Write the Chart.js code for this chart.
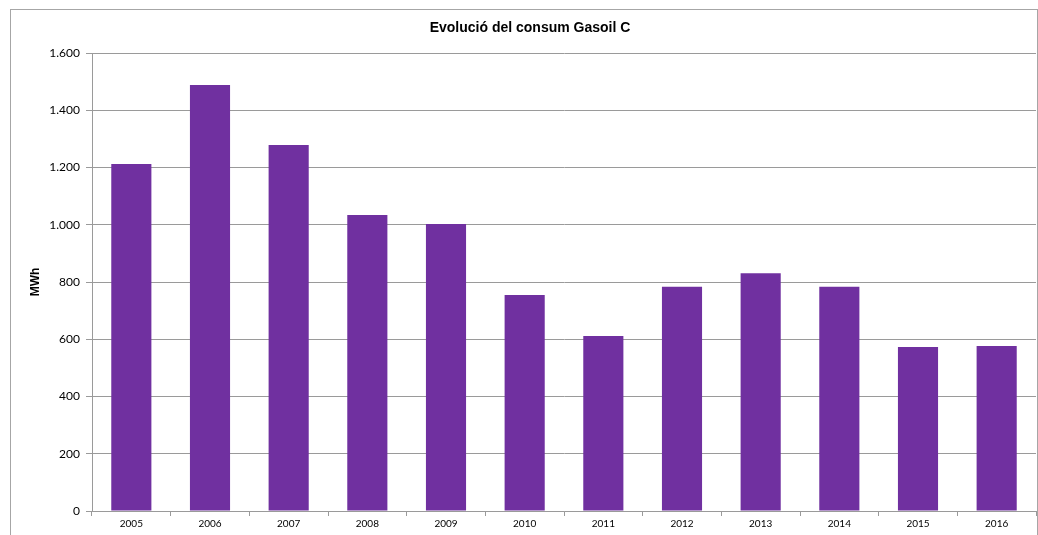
<!DOCTYPE html>
<html lang="ca">
<head>
  <meta charset="UTF-8">
  <title>Evolució del consum Gasoil C</title>
  <script src="https://cdn.jsdelivr.net/npm/chart.js"></script>
  <style>
    html, body {
      margin: 0;
      padding: 0;
      background: #fff;
      overflow: hidden;
    }
    #frame {
      position: absolute;
      left: 10px;
      top: 9px;
      width: 1026px;
      height: 600px;
      border: 1px solid #a6a6a6;
    }
    #chartContainer {
      position: absolute;
      left: 0;
      top: 0;
      width: 1038px;
      height: 535px;
    }
  </style>
</head>
<body>

  <div id="frame"></div>
  <div id="chartContainer">
    <canvas id="gasoilChart"></canvas>
  </div>

  <script>
    // Dades llegides del gràfic
    const anys = ["2005", "2006", "2007", "2008", "2009", "2010", "2011", "2012", "2013", "2014", "2015", "2016"];
    const consum = [1212, 1488, 1279, 1034, 1003, 755, 611, 783, 831, 783, 573, 576];
    const ticksY = [0, 200, 400, 600, 800, 1000, 1200, 1400, 1600];

    const grisLinia = '#9a9a9a';

    // Format amb punt com a separador de milers
    function formatMiles(v) {
      return String(v).replace(/\B(?=(\d{3})+(?!\d))/g, '.');
    }

    const ctx = document.getElementById('gasoilChart').getContext('2d');
    const gasoilChart = new Chart(ctx, {
      type: 'bar',
      data: {
        labels: anys,
        datasets: [{
          label: 'MWh',
          data: consum,
          backgroundColor: '#7030A0',
          borderWidth: 0,
          categoryPercentage: 1.0,
          barPercentage: 0.51
        }]
      },
      options: {
        responsive: true,
        maintainAspectRatio: false,
        animation: false,
        layout: {
          // el padding esquerre desplaça el títol cap al centre del marc
          padding: { left: 24, right: 2, top: 0, bottom: 0 }
        },
        plugins: {
          legend: { display: false },
          tooltip: { enabled: false },
          title: {
            display: true,
            text: 'Evolució del consum Gasoil C',
            color: '#000',
            font: { family: 'Liberation Sans', size: 14, weight: 'bold' },
            padding: { top: 19.6, bottom: 16.6 }
          }
        },
        scales: {
          x: {
            offset: true,
            grid: {
              offset: true,
              drawOnChartArea: false,
              drawTicks: true,
              tickLength: 5,
              color: grisLinia
            },
            border: { color: grisLinia, width: 1 },
            ticks: {
              color: '#000',
              font: { family: 'Lato', size: 10 },
              padding: 2,
              maxRotation: 0
            },
            afterFit: (scale) => { scale.height = 24; }
          },
          y: {
            min: 0,
            max: 1600,
            afterBuildTicks: (scale) => {
              scale.ticks = ticksY.map(v => ({ value: v }));
            },
            grid: {
              color: grisLinia,
              tickLength: 6
            },
            border: { color: grisLinia, width: 1 },
            ticks: {
              color: '#000',
              font: { family: 'Lato', size: 12 },
              padding: 6,
              callback: (v) => formatMiles(v)
            },
            title: {
              display: true,
              text: 'MWh',
              color: '#000',
              font: { family: 'Liberation Sans', size: 12, weight: 'bold' },
              padding: { top: 4, bottom: 0 }
            },
            afterFit: (scale) => { scale.width = 68; }
          }
        }
      }
    });
  </script>

</body>
</html>
